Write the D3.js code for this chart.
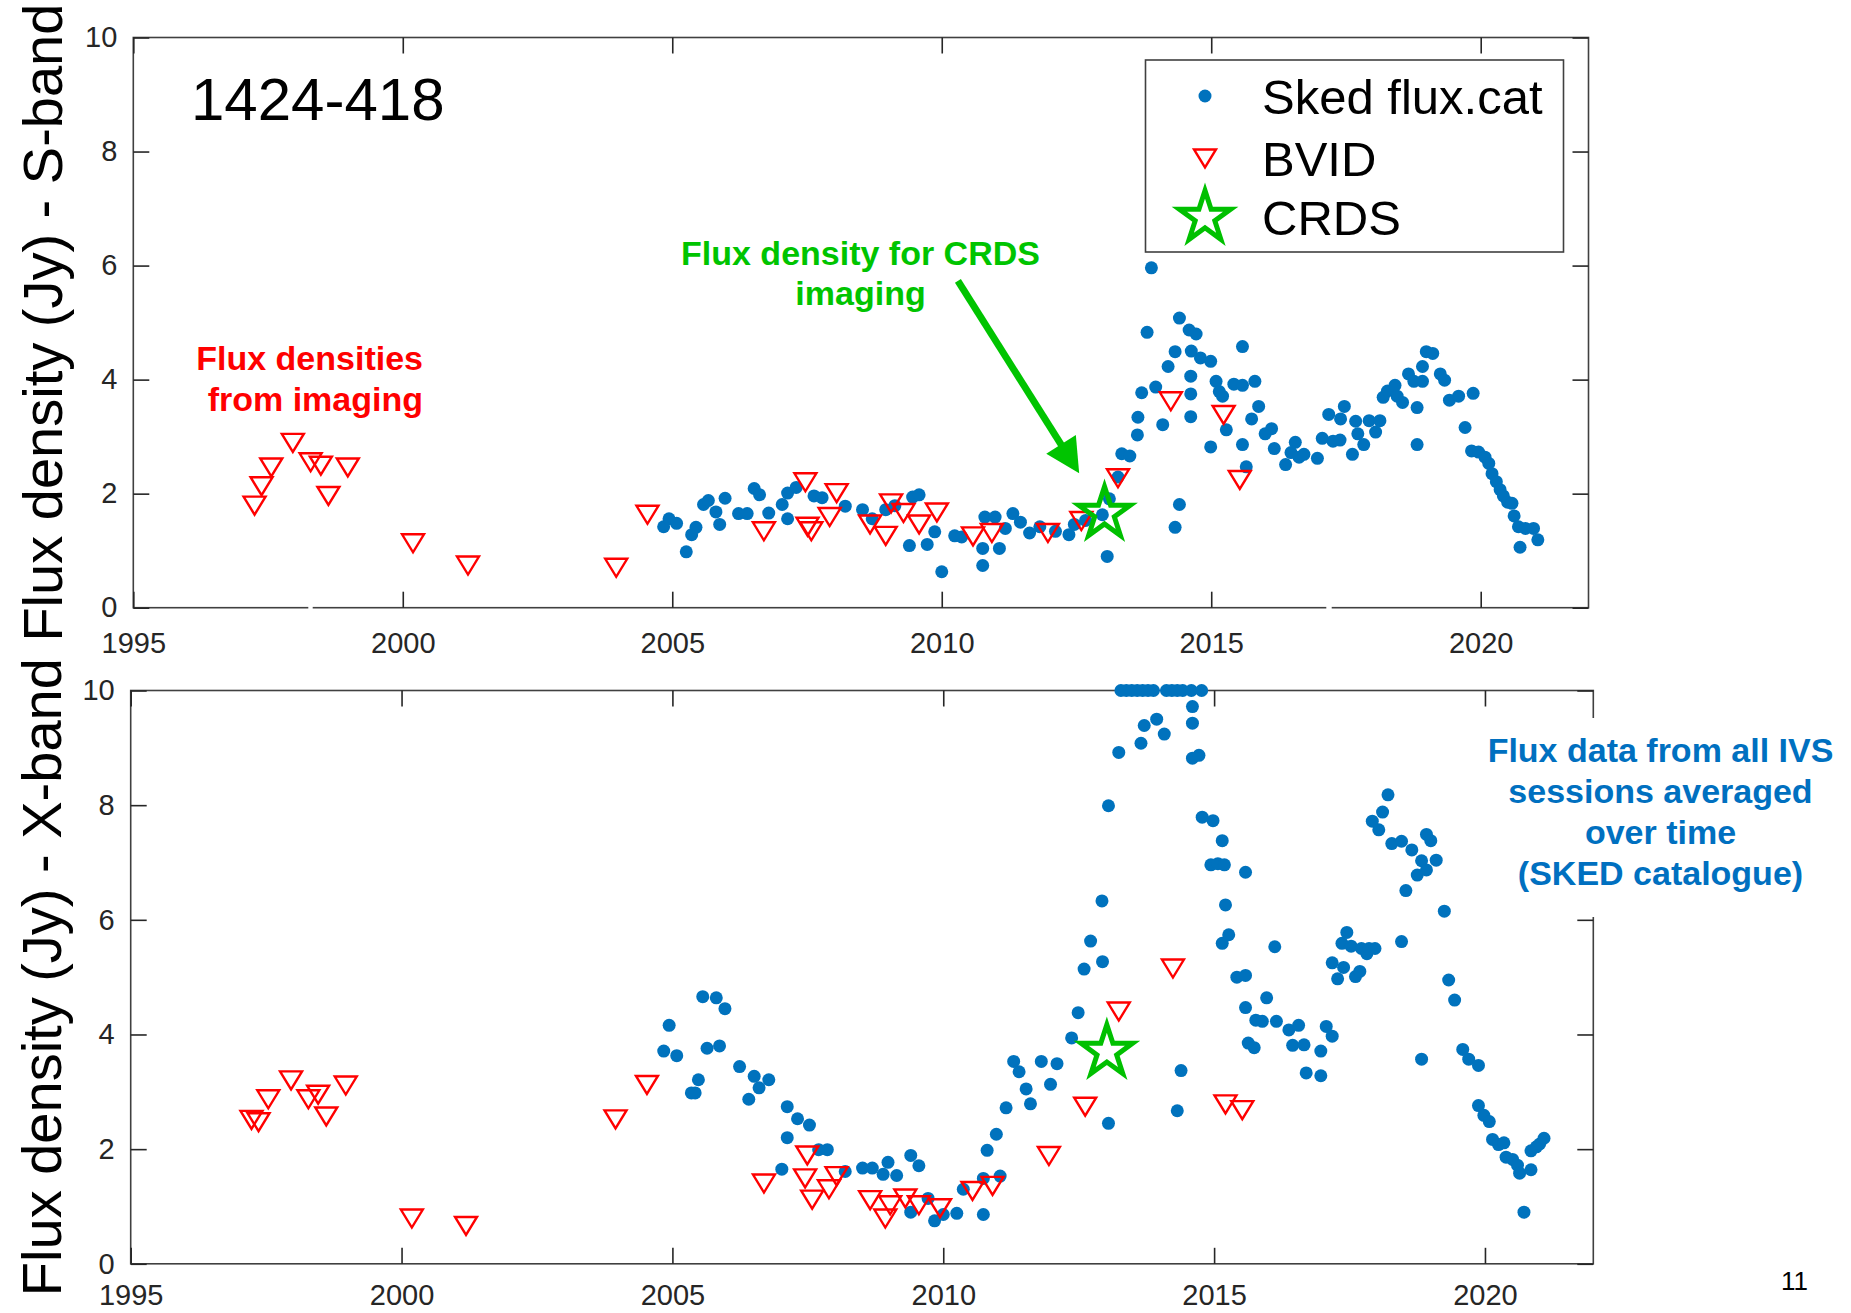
<!DOCTYPE html>
<html>
<head>
<meta charset="utf-8">
<script src="https://cdn.jsdelivr.net/npm/d3@7"></script>
<style>
  html, body { margin: 0; padding: 0; background: #ffffff; }
  svg { display: block; }
  text { font-family: "Liberation Sans", Arial, Helvetica, sans-serif; }
</style>
</head>
<body>
<svg id="chart" width="1851" height="1313"></svg>
<script>
// ---------------------------------------------------------------------------
// Source 1424-418: flux density history, S-band (top) and X-band (bottom)
// Each point is [decimal year, flux density in Jy]
// ---------------------------------------------------------------------------

// S-band, averaged Sked flux.cat values
const sBandSked = [
  [2004.84,1.42],[2004.94,1.56],[2005.08,1.48],[2005.26,0.98],[2005.36,1.28],[2005.44,1.41],
  [2005.58,1.81],[2005.67,1.88],[2005.81,1.68],[2005.88,1.46],[2005.98,1.92],[2006.23,1.65],
  [2006.39,1.65],[2006.52,2.09],[2006.62,1.98],[2006.79,1.66],[2007.04,1.81],[2007.14,2.01],
  [2007.14,1.56],[2007.30,2.11],[2007.63,1.96],[2007.78,1.93],[2008.21,1.78],[2008.53,1.72],
  [2008.71,1.56],[2008.96,1.72],[2009.13,1.79],[2009.40,1.09],[2009.46,1.94],[2009.58,1.98],
  [2009.73,1.11],[2009.87,1.33],[2010.00,0.63],[2010.24,1.26],[2010.37,1.24],[2010.76,1.04],
  [2010.76,0.74],[2010.80,1.59],[2010.99,1.59],[2011.07,1.04],[2011.18,1.39],[2011.32,1.65],
  [2011.46,1.50],[2011.63,1.31],[2011.82,1.42],[2012.11,1.34],[2012.36,1.28],[2012.46,1.46],
  [2012.67,1.53],[2012.98,1.63],[2013.07,0.90],[2013.11,1.91],[2013.27,2.29],[2013.34,2.70],
  [2013.49,2.66],[2013.63,3.03],[2013.64,3.34],[2013.71,3.77],[2013.81,4.83],[2013.89,5.96],
  [2013.97,3.87],[2014.10,3.21],[2014.20,4.23],[2014.33,4.49],[2014.33,1.41],[2014.41,5.08],
  [2014.41,1.81],[2014.59,4.87],[2014.63,4.50],[2014.62,4.06],[2014.62,3.75],[2014.62,3.35],
  [2014.72,4.80],[2014.80,4.38],[2014.99,4.32],[2014.99,2.82],[2015.09,3.97],[2015.15,3.79],
  [2015.21,3.71],[2015.28,3.12],[2015.42,3.92],[2015.58,4.58],[2015.58,3.90],[2015.58,2.86],
  [2015.65,2.47],[2015.75,3.31],[2015.81,3.97],[2015.88,3.53],[2016.00,3.05],[2016.12,3.14],
  [2016.17,2.79],[2016.38,2.51],[2016.48,2.72],[2016.56,2.90],[2016.63,2.64],[2016.72,2.69],
  [2016.97,2.62],[2017.06,2.97],[2017.18,3.39],[2017.26,2.92],[2017.39,2.94],[2017.40,3.31],
  [2017.47,3.53],[2017.62,2.69],[2017.68,3.27],[2017.72,3.05],[2017.83,2.86],[2017.93,3.28],
  [2018.05,3.08],[2018.13,3.28],[2018.19,3.69],[2018.27,3.80],[2018.41,3.90],[2018.45,3.71],
  [2018.55,3.60],[2018.66,4.10],[2018.76,3.97],[2018.82,2.86],[2018.82,3.51],[2018.92,3.97],
  [2018.92,4.23],[2018.99,4.49],[2019.11,4.46],[2019.25,4.10],[2019.33,3.99],[2019.42,3.64],
  [2019.59,3.71],[2019.71,3.16],[2019.86,3.76],[2019.83,2.75],[2019.96,2.73],[2020.08,2.64],
  [2020.15,2.53],[2020.21,2.35],[2020.29,2.21],[2020.36,2.07],[2020.42,1.96],[2020.50,1.85],
  [2020.58,1.83],[2020.62,1.61],[2020.70,1.42],[2020.73,1.06],[2020.83,1.39],[2020.98,1.39],
  [2021.06,1.19]
];

// S-band, BVID imaging values
const sBandBvid = [
  [1997.25,1.79],[1997.38,2.13],[1997.56,2.46],[1997.96,2.89],[1998.29,2.55],[1998.48,2.49],
  [1998.62,1.96],[1998.98,2.46],[2000.19,1.13],[2001.21,0.74],[2003.96,0.70],[2004.54,1.63],
  [2006.70,1.34],[2007.47,2.20],[2007.51,1.42],[2007.58,1.34],[2007.92,1.59],[2008.05,2.01],
  [2008.67,1.46],[2008.96,1.26],[2009.06,1.83],[2009.29,1.66],[2009.58,1.46],[2009.91,1.67],
  [2010.58,1.25],[2010.93,1.31],[2011.97,1.31],[2012.59,1.52],[2013.27,2.27],[2014.25,3.62],
  [2015.23,3.38],[2015.53,2.24]
];

// S-band, CRDS imaging value
const sBandCrds = [[2013.02,1.65]];

// X-band, averaged Sked flux.cat values (catalogue entries capped at 10 Jy)
const xBandSked = [
  [2004.84,3.71],[2004.94,4.16],[2005.08,3.63],[2005.35,2.98],[2005.42,2.98],[2005.48,3.21],
  [2005.56,4.66],[2005.64,3.76],[2005.81,4.64],[2005.87,3.80],[2005.97,4.45],[2006.24,3.44],
  [2006.41,2.87],[2006.51,3.27],[2006.60,3.07],[2006.78,3.21],[2007.02,1.65],[2007.12,2.74],
  [2007.12,2.20],[2007.31,2.53],[2007.53,2.42],[2007.70,1.99],[2007.86,1.99],[2008.19,1.61],
  [2008.51,1.67],[2008.69,1.67],[2008.89,1.56],[2008.98,1.77],[2009.14,1.54],[2009.40,1.89],
  [2009.40,0.90],[2009.55,1.71],[2009.72,1.14],[2009.84,0.75],[2010.00,0.86],[2010.25,0.88],
  [2010.37,1.30],[2010.74,0.86],[2010.74,1.49],[2010.81,1.98],[2010.98,2.26],[2011.05,1.53],
  [2011.16,2.72],[2011.30,3.53],[2011.40,3.35],[2011.53,3.05],[2011.61,2.79],[2011.81,3.53],
  [2011.98,3.13],[2012.10,3.49],[2012.37,3.94],[2012.49,4.38],[2012.60,5.14],[2012.72,5.63],
  [2012.93,6.33],[2012.94,5.27],[2013.05,7.99],[2013.05,2.45],[2013.24,8.92],
  [2013.28,10],[2013.38,10],[2013.48,10],[2013.58,10],[2013.68,10],[2013.78,10],[2013.88,10],
  [2013.65,9.08],[2013.71,9.39],[2013.94,9.50],[2014.08,9.24],
  [2014.12,10],[2014.22,10],[2014.32,10],[2014.42,10],[2014.58,10],[2014.77,10],
  [2014.32,2.67],[2014.39,3.37],[2014.60,9.72],[2014.60,9.43],[2014.60,8.82],[2014.72,8.87],
  [2014.78,7.79],[2014.98,7.73],[2014.94,6.96],[2015.07,6.98],[2015.15,7.38],[2015.19,6.96],
  [2015.21,6.26],[2015.15,5.59],[2015.27,5.74],[2015.58,6.83],[2015.42,5.00],[2015.58,5.03],
  [2015.58,4.47],[2015.63,3.85],[2015.74,3.77],[2015.77,4.25],[2015.89,4.23],[2015.97,4.64],
  [2016.12,5.53],[2016.15,4.23],[2016.38,4.08],[2016.45,3.81],[2016.56,4.16],[2016.66,3.82],
  [2016.70,3.33],[2016.97,3.28],[2016.97,3.71],[2017.07,4.14],[2017.18,3.97],[2017.18,5.25],
  [2017.28,4.97],[2017.39,5.17],[2017.36,5.59],[2017.45,5.78],[2017.53,5.54],[2017.61,5.01],
  [2017.69,5.10],[2017.72,5.50],[2017.82,5.41],[2017.86,5.50],[2017.97,5.50],[2017.92,7.72],
  [2018.04,7.57],[2018.11,7.88],[2018.21,8.18],[2018.28,7.33],[2018.46,7.37],[2018.46,5.62],
  [2018.54,6.51],[2018.65,7.22],[2018.75,6.78],[2018.83,3.57],[2018.83,7.03],[2018.92,6.87],
  [2018.92,7.49],[2019.00,7.38],[2019.10,7.04],[2019.25,6.15],[2019.33,4.95],[2019.44,4.60],
  [2019.59,3.74],[2019.70,3.57],[2019.88,3.46],[2019.88,2.76],[2019.98,2.59],[2020.08,2.48],
  [2020.14,2.17],[2020.25,2.08],[2020.35,2.11],[2020.39,1.86],[2020.51,1.82],[2020.60,1.72],
  [2020.64,1.58],[2020.72,0.90],[2020.85,1.64],[2020.85,1.97],[2020.95,2.04],[2021.01,2.09],
  [2021.09,2.19]
];

// X-band, BVID imaging values
const xBandBvid = [
  [1997.23,2.51],[1997.36,2.47],[1997.54,2.87],[1997.96,3.20],[1998.28,2.87],[1998.46,2.95],
  [1998.61,2.57],[1998.97,3.11],[2000.19,0.79],[2001.19,0.66],[2003.95,2.52],[2004.53,3.12],
  [2006.69,1.40],[2007.45,1.49],[2007.49,1.89],[2007.58,1.12],[2007.89,1.30],[2008.03,1.53],
  [2008.65,1.11],[2008.93,0.79],[2009.02,1.02],[2009.30,1.14],[2009.55,1.02],[2009.94,0.97],
  [2010.54,1.27],[2010.91,1.36],[2011.95,1.88],[2012.62,2.74],[2013.24,4.40],[2014.24,5.15],
  [2015.21,2.78],[2015.52,2.68]
];

// X-band, CRDS imaging value
const xBandCrds = [[2013.02,3.70]];

// Axis settings
const yearDomain = [1995, 2022];
const yearTicks = [1995, 2000, 2005, 2010, 2015, 2020];
const fluxDomain = [0, 10];
const fluxTicks = [0, 2, 4, 6, 8, 10];

const legendLabels = ["Sked flux.cat", "BVID", "CRDS"];

// ---------------------------------------------------------------------------
const COLORS = {
  sked: "#0072BD",
  bvid: "#FF0000",
  crds: "#00C000",
  axis: "#404040",
  tick: "#262626"
};

const svg = d3.select("#chart");

// panel frames in page pixels
const panels = [
  { name: "S", x0: 133.3, x1: 1588.5, y0: 37.5, y1: 607.7, labelPad: 24.5,
    sked: sBandSked, bvid: sBandBvid, crds: sBandCrds,
    title: "Flux density (Jy) - S-band", titleX: 62 },
  { name: "X", x0: 130.7, x1: 1593.3, y0: 690.5, y1: 1263.8, labelPad: 21,
    sked: xBandSked, bvid: xBandBvid, crds: xBandCrds,
    title: "Flux density (Jy) - X-band", titleX: 61 }
];

// five-pointed star path (pentagram marker), centred on 0,0
function starPath(R) {
  const r = R * 0.382;
  const pts = [];
  for (let i = 0; i < 10; i++) {
    const a = -Math.PI / 2 + i * Math.PI / 5;
    const rad = i % 2 === 0 ? R : r;
    pts.push([rad * Math.cos(a), rad * Math.sin(a)]);
  }
  return "M" + pts.map(p => p[0].toFixed(2) + "," + p[1].toFixed(2)).join("L") + "Z";
}
// downward-pointing triangle marker
function triPath(w, h) {
  return `M${-w/2},${-h/2}L${w/2},${-h/2}L0,${h/2}Z`;
}

const DOT_R = 6.5;
const TRI = triPath(22, 18);
const STAR = starPath(27);

panels.forEach(p => {
  const x = d3.scaleLinear().domain(yearDomain).range([p.x0, p.x1]);
  const y = d3.scaleLinear().domain(fluxDomain).range([p.y1, p.y0]);
  p.x = x; p.y = y;

  const g = svg.append("g").attr("class", "panel-" + p.name);

  // box
  g.append("rect")
    .attr("x", p.x0).attr("y", p.y0)
    .attr("width", p.x1 - p.x0).attr("height", p.y1 - p.y0)
    .attr("fill", "none").attr("stroke", COLORS.axis).attr("stroke-width", 1.6);

  const TL = 16;
  // bottom axis with labels, ticks pointing inward
  const xb = g.append("g").attr("transform", `translate(0,${p.y1})`)
    .call(d3.axisBottom(x).tickValues(yearTicks).tickFormat(d3.format("d"))
      .tickSizeInner(-TL).tickSizeOuter(0).tickPadding(p.labelPad));
  // top axis ticks
  const xt = g.append("g").attr("transform", `translate(0,${p.y0})`)
    .call(d3.axisTop(x).tickValues(yearTicks).tickFormat("")
      .tickSizeInner(-TL).tickSizeOuter(0));
  // left axis with labels
  const yl = g.append("g").attr("transform", `translate(${p.x0},0)`)
    .call(d3.axisLeft(y).tickValues(fluxTicks).tickFormat(d3.format("d"))
      .tickSizeInner(-TL).tickSizeOuter(0).tickPadding(16));
  // right axis ticks
  const yr = g.append("g").attr("transform", `translate(${p.x1},0)`)
    .call(d3.axisRight(y).tickValues(fluxTicks).tickFormat("")
      .tickSizeInner(-TL).tickSizeOuter(0));

  [xb, xt, yl, yr].forEach(a => {
    a.select(".domain").remove();
    a.selectAll(".tick line").attr("stroke", COLORS.tick).attr("stroke-width", 1.6);
    a.selectAll(".tick text")
      .attr("fill", COLORS.tick)
      .style("font-family", '"Liberation Sans", Arial, sans-serif')
      .style("font-size", "29px");
  });

  // vertical axis title
  g.append("text")
    .attr("transform", `translate(${p.titleX},${(p.y0 + p.y1) / 2}) rotate(-90)`)
    .attr("text-anchor", "middle")
    .attr("fill", "#000")
    .style("font-size", "56px")
    .text(p.title);
});

// white breaks in the upper panel's lower axis left by the slide's text frames
const topP = panels[0];
[[308.3, 4.4], [1326.3, 5.4]].forEach(([bx, bw]) => {
  svg.append("rect").attr("x", bx).attr("y", topP.y1 - 3).attr("width", bw).attr("height", 6)
    .attr("fill", "#fff");
});

// data marks
panels.forEach(p => {
  const g = svg.append("g").attr("class", "marks-" + p.name);
  g.selectAll("circle.sked").data(p.sked).join("circle")
    .attr("class", "sked")
    .attr("cx", d => p.x(d[0])).attr("cy", d => p.y(d[1]))
    .attr("r", DOT_R).attr("fill", COLORS.sked);

  g.selectAll("path.bvid").data(p.bvid).join("path")
    .attr("class", "bvid")
    .attr("transform", d => `translate(${p.x(d[0])},${p.y(d[1])})`)
    .attr("d", TRI)
    .attr("fill", "none").attr("stroke", COLORS.bvid).attr("stroke-width", 2.4)
    .attr("stroke-linejoin", "miter");

  g.selectAll("path.crds").data(p.crds).join("path")
    .attr("class", "crds")
    .attr("transform", d => `translate(${p.x(d[0])},${p.y(d[1])})`)
    .attr("d", STAR)
    .attr("fill", "none").attr("stroke", COLORS.crds).attr("stroke-width", 5)
    .attr("stroke-linejoin", "miter");
});

// source name
svg.append("text").attr("x", 191).attr("y", 120)
  .attr("fill", "#000").style("font-size", "60px").text("1424-418");

// legend
const lg = svg.append("g").attr("class", "legend");
lg.append("rect").attr("x", 1145.5).attr("y", 60).attr("width", 418).attr("height", 192)
  .attr("fill", "#fff").attr("stroke", COLORS.axis).attr("stroke-width", 1.6);
const legendRows = [96, 158.5, 217.5];
lg.append("circle").attr("cx", 1205).attr("cy", legendRows[0]).attr("r", DOT_R).attr("fill", COLORS.sked);
lg.append("path").attr("transform", `translate(1205,${legendRows[1]})`).attr("d", TRI)
  .attr("fill", "none").attr("stroke", COLORS.bvid).attr("stroke-width", 2.4);
lg.append("path").attr("transform", `translate(1205,${legendRows[2]})`).attr("d", STAR)
  .attr("fill", "none").attr("stroke", COLORS.crds).attr("stroke-width", 5);
legendLabels.forEach((t, i) => {
  lg.append("text").attr("x", 1262).attr("y", legendRows[i] + 17.5)
    .attr("fill", "#000").style("font-size", "49px").text(t);
});

// annotation: imaging flux densities
const red = svg.append("g").attr("fill", "#FF0000").attr("text-anchor", "end")
  .style("font-size", "34px").style("font-weight", "bold");
red.append("text").attr("x", 423).attr("y", 369.5).text("Flux densities");
red.append("text").attr("x", 423).attr("y", 410.5).text("from imaging");

// annotation: CRDS imaging, with arrow pointing at the star
const green = svg.append("g").attr("fill", "#00C400").attr("text-anchor", "middle")
  .style("font-size", "34px").style("font-weight", "bold");
green.append("text").attr("x", 860.5).attr("y", 265).text("Flux density for CRDS");
green.append("text").attr("x", 860.5).attr("y", 305).text("imaging");

{
  const p = panels[0];
  const from = [p.x(2010.30), p.y(5.73)];
  const to = [p.x(2012.55), p.y(2.36)];
  const dx = to[0] - from[0], dy = to[1] - from[1];
  const len = Math.hypot(dx, dy);
  const ux = dx / len, uy = dy / len;
  const headL = 34, headW = 35;
  const base = [to[0] - ux * headL, to[1] - uy * headL];
  svg.append("line")
    .attr("x1", from[0]).attr("y1", from[1])
    .attr("x2", base[0] + ux * 2).attr("y2", base[1] + uy * 2)
    .attr("stroke", "#00C400").attr("stroke-width", 7);
  svg.append("path")
    .attr("d", `M${to[0]},${to[1]}L${base[0] - uy * headW / 2},${base[1] + ux * headW / 2}` +
               `L${base[0] + uy * headW / 2},${base[1] - ux * headW / 2}Z`)
    .attr("fill", "#00C400");
}

// annotation: catalogue description (on a white text frame)
svg.append("rect").attr("x", 1480).attr("y", 718).attr("width", 371).attr("height", 199)
  .attr("fill", "#fff");
const blue = svg.append("g").attr("fill", "#0070C0").attr("text-anchor", "middle")
  .style("font-size", "34px").style("font-weight", "bold");
["Flux data from all IVS", "sessions averaged", "over time", "(SKED catalogue)"]
  .forEach((t, i) => blue.append("text").attr("x", 1660.5).attr("y", 762 + i * 41).text(t));

// page number
svg.append("text").attr("x", 1808).attr("y", 1290).attr("text-anchor", "end")
  .attr("fill", "#000").style("font-size", "26px").text("11");
</script>
</body>
</html>
